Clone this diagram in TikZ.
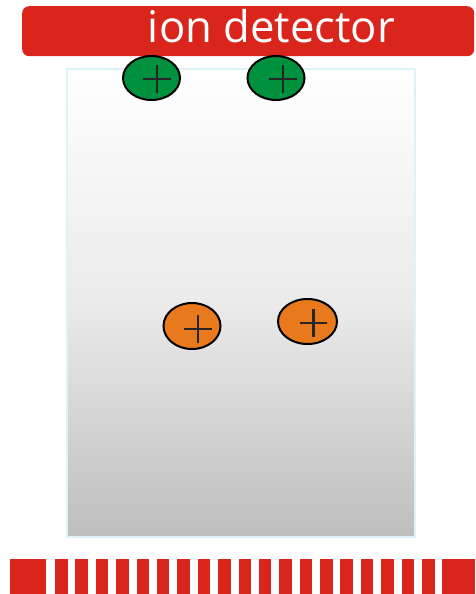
\documentclass[tikz,border=0pt]{standalone}
\usepackage{fontspec}
\setmainfont{Open Sans}
\usetikzlibrary{shapes.geometric}
\definecolor{detred}{HTML}{DA251D}
\definecolor{iongreen}{HTML}{00913F}
\definecolor{ionorange}{HTML}{E8791C}
\definecolor{boxedge}{HTML}{DDF3F7}
\definecolor{boxbottom}{HTML}{BEBEBE}
\tikzset{
  ion/.style={ellipse, draw=black, line width=2pt, minimum width=57pt, minimum height=44pt, inner sep=0pt},
  greenion/.style={ion, fill=iongreen},
  orangeion/.style={ion, fill=ionorange},
  plusline/.style={line width=2.2pt, draw=black!85},
  gridbar/.style={fill=detred, draw=none},
}
\begin{document}
\begin{tikzpicture}[x=1pt,y=-1pt]
\useasboundingbox (0,0) rectangle (475,594);
% chamber
\shade[top color=white, bottom color=boxbottom, middle color=white!92!black, shading angle=0] (67,69) rectangle (415,537);
\draw[boxedge, line width=1.5pt] (67,69) rectangle (415,537);
% detector
\node[fill=detred, rounded corners=7pt, minimum width=452pt, minimum height=50pt, inner sep=0pt, anchor=north west] (det) at (22,6) {};
\node[text=white, anchor=base] (lbl) at (271.5,43) {\resizebox{247pt}{!}{ion detector}};
% green ions
\node[greenion] (g1) at (151.5,78) {};
\node[greenion] (g2) at (276,78) {};
\draw[plusline] (143,79) -- (171,79) (157,65) -- (157,93);
\draw[plusline] (269,79) -- (297,79) (283,65) -- (283,93);
% orange ions
\node[orangeion, minimum height=46pt] (o1) at (192,326) {};
\node[orangeion, minimum width=59pt, minimum height=45pt] (o2) at (307.5,321.5) {};
\draw[plusline] (184,329) -- (212,329) (198,315) -- (198,343);
\draw[plusline] (300,323) -- (327,323) (313.5,309) -- (313.5,337);
% grid
\fill[gridbar] (10,559) rectangle (46,594);
\foreach \i in {0,...,18} {
  \fill[gridbar] ({55+20.39*\i},559) rectangle ({67.5+20.39*\i},594);
}
\fill[gridbar] (442,559) rectangle (475,594);
\end{tikzpicture}
\end{document}
